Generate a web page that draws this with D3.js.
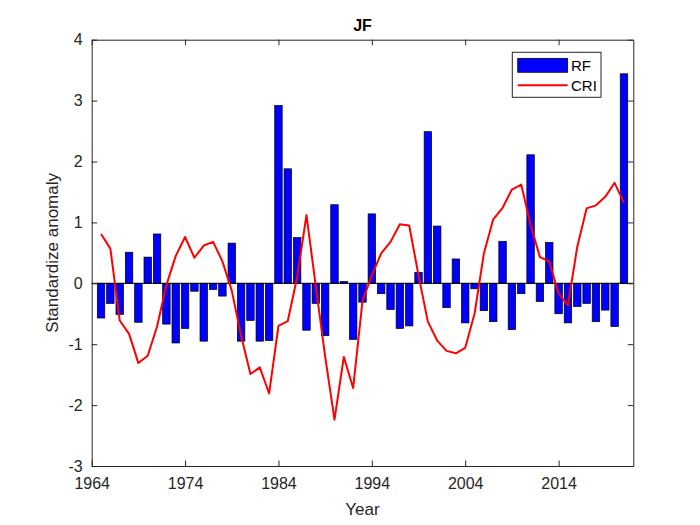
<!DOCTYPE html>
<html>
<head>
<meta charset="utf-8">
<script src="https://cdn.jsdelivr.net/npm/d3@7"></script>
<style>
  body { margin: 0; background: #fff; }
  svg { font-family: "Liberation Sans", Arial, sans-serif; }
</style>
</head>
<body>
<div id="chart"></div>
<script>
// values
var years = [1965, 1966, 1967, 1968, 1969, 1970, 1971, 1972, 1973, 1974,
  1975, 1976, 1977, 1978, 1979, 1980, 1981, 1982, 1983, 1984,
  1985, 1986, 1987, 1988, 1989, 1990, 1991, 1992, 1993, 1994,
  1995, 1996, 1997, 1998, 1999, 2000, 2001, 2002, 2003, 2004,
  2005, 2006, 2007, 2008, 2009, 2010, 2011, 2012, 2013, 2014,
  2015, 2016, 2017, 2018, 2019, 2020, 2021];

var rf = [-0.57, -0.33, -0.51, 0.51, -0.64, 0.43, 0.81, -0.67, -0.98, -0.74,
  -0.13, -0.95, -0.10, -0.21, 0.66, -0.95, -0.61, -0.95, -0.94, 2.92,
  1.88, 0.75, -0.77, -0.33, -0.86, 1.29, 0.03, -0.92, -0.31, 1.14,
  -0.17, -0.43, -0.74, -0.70, 0.18, 2.49, 0.94, -0.40, 0.40, -0.65,
  -0.09, -0.45, -0.63, 0.69, -0.76, -0.17, 2.11, -0.30, 0.67, -0.50,
  -0.65, -0.38, -0.33, -0.63, -0.44, -0.71, 3.44];

var cri = [0.81, 0.57, -0.61, -0.83, -1.31, -1.19, -0.71, -0.03, 0.45, 0.76,
  0.42, 0.62, 0.68, 0.36, -0.12, -0.86, -1.49, -1.38, -1.81, -0.70,
  -0.62, 0.10, 1.12, -0.05, -1.20, -2.24, -1.21, -1.72, -0.29, 0.13,
  0.49, 0.68, 0.97, 0.95, 0.13, -0.63, -0.94, -1.11, -1.15, -1.06,
  -0.50, 0.49, 1.05, 1.24, 1.54, 1.62, 0.96, 0.43, 0.36, -0.17,
  -0.36, 0.60, 1.23, 1.28, 1.42, 1.65, 1.32];

var xTicks = [1964, 1974, 1984, 1994, 2004, 2014];
var yTicks = [-3, -2, -1, 0, 1, 2, 3, 4];

var width = 700;
var height = 525;
var axL = 91.7, axR = 633.3, axT = 39.7, axB = 466;
var tickLen = 5.5;
var axisColor = "#262626";

var svg = d3.select("#chart")
  .append("svg")
  .attr("width", width)
  .attr("height", height);

var x = d3.scaleLinear().domain([1964, 2022]).range([axL, axR]);
var y = d3.scaleLinear().domain([-3, 4]).range([axB, axT]);

var barW = x(1964.8) - x(1964);

// bars
svg.append("g")
  .selectAll("rect")
  .data(years)
  .enter()
  .append("rect")
  .attr("x", function(d) { return x(d) - barW / 2; })
  .attr("y", function(d, i) { return y(Math.max(0, rf[i])); })
  .attr("width", barW)
  .attr("height", function(d, i) { return Math.abs(y(rf[i]) - y(0)); })
  .attr("fill", "#0000ff")
  .attr("stroke", "#000")
  .attr("stroke-width", 0.7);

// baseline
svg.append("line")
  .attr("x1", axL).attr("x2", axR)
  .attr("y1", y(0)).attr("y2", y(0))
  .attr("stroke", "#000")
  .attr("stroke-width", 1);

// CRI line
var line = d3.line()
  .x(function(d) { return x(d); })
  .y(function(d, i) { return y(cri[i]); });

svg.append("path")
  .datum(years)
  .attr("d", line)
  .attr("fill", "none")
  .attr("stroke", "#ff0000")
  .attr("stroke-width", 2)
  .attr("stroke-linejoin", "round");

// axes (box with inward ticks on all sides), plain hyphen minus like matlab
var plain = function(d) { return String(d); };
var xAxisB = d3.axisBottom(x).tickValues(xTicks).tickFormat(plain)
  .tickSizeInner(-tickLen).tickSizeOuter(0).tickPadding(12);
var xAxisT = d3.axisTop(x).tickValues(xTicks).tickFormat("")
  .tickSizeInner(-tickLen).tickSizeOuter(0);
var yAxisL = d3.axisLeft(y).tickValues(yTicks).tickFormat(plain)
  .tickSizeInner(-tickLen).tickSizeOuter(0).tickPadding(9);
var yAxisR = d3.axisRight(y).tickValues(yTicks).tickFormat("")
  .tickSizeInner(-tickLen).tickSizeOuter(0);

function styleAxis(g) {
  g.select(".domain").attr("stroke", axisColor).attr("stroke-width", 1);
  g.selectAll(".tick line").attr("stroke", axisColor).attr("stroke-width", 1);
  g.selectAll(".tick text")
    .attr("fill", axisColor)
    .style("font-size", "16px")
    .style("font-family", "'Liberation Sans', Arial, sans-serif");
}

svg.append("g").attr("transform", "translate(0," + axB + ")").call(xAxisB).call(styleAxis);
svg.append("g").attr("transform", "translate(0," + axT + ")").call(xAxisT).call(styleAxis);
svg.append("g").attr("transform", "translate(" + axL + ",0)").call(yAxisL).call(styleAxis);
svg.append("g").attr("transform", "translate(" + axR + ",0)").call(yAxisR).call(styleAxis);

// title and labels
svg.append("text")
  .attr("x", (axL + axR) / 2)
  .attr("y", 31)
  .attr("text-anchor", "middle")
  .attr("font-weight", "bold")
  .attr("font-size", "16px")
  .attr("fill", "#000")
  .text("JF");

svg.append("text")
  .attr("x", (axL + axR) / 2)
  .attr("y", 515)
  .attr("text-anchor", "middle")
  .attr("font-size", "17px")
  .attr("fill", axisColor)
  .text("Year");

svg.append("text")
  .attr("transform", "translate(58," + ((axT + axB) / 2) + ")rotate(-90)")
  .attr("text-anchor", "middle")
  .attr("font-size", "17px")
  .attr("fill", axisColor)
  .text("Standardize anomaly");

// legend
var legend = svg.append("g");
legend.append("rect")
  .attr("x", 512.3).attr("y", 52.3)
  .attr("width", 88.7).attr("height", 45)
  .attr("fill", "#fff")
  .attr("stroke", axisColor)
  .attr("stroke-width", 1);
legend.append("rect")
  .attr("x", 517.7).attr("y", 58.3)
  .attr("width", 50).attr("height", 14)
  .attr("fill", "#0000ff")
  .attr("stroke", "#000")
  .attr("stroke-width", 0.7);
legend.append("line")
  .attr("x1", 517.7).attr("x2", 567.7)
  .attr("y1", 85.3).attr("y2", 85.3)
  .attr("stroke", "#ff0000")
  .attr("stroke-width", 2);
legend.append("text")
  .attr("x", 571).attr("y", 71)
  .attr("font-size", "15px")
  .attr("fill", "#000")
  .text("RF");
legend.append("text")
  .attr("x", 571).attr("y", 91)
  .attr("font-size", "15px")
  .attr("fill", "#000")
  .text("CRI");
</script>
</body>
</html>
